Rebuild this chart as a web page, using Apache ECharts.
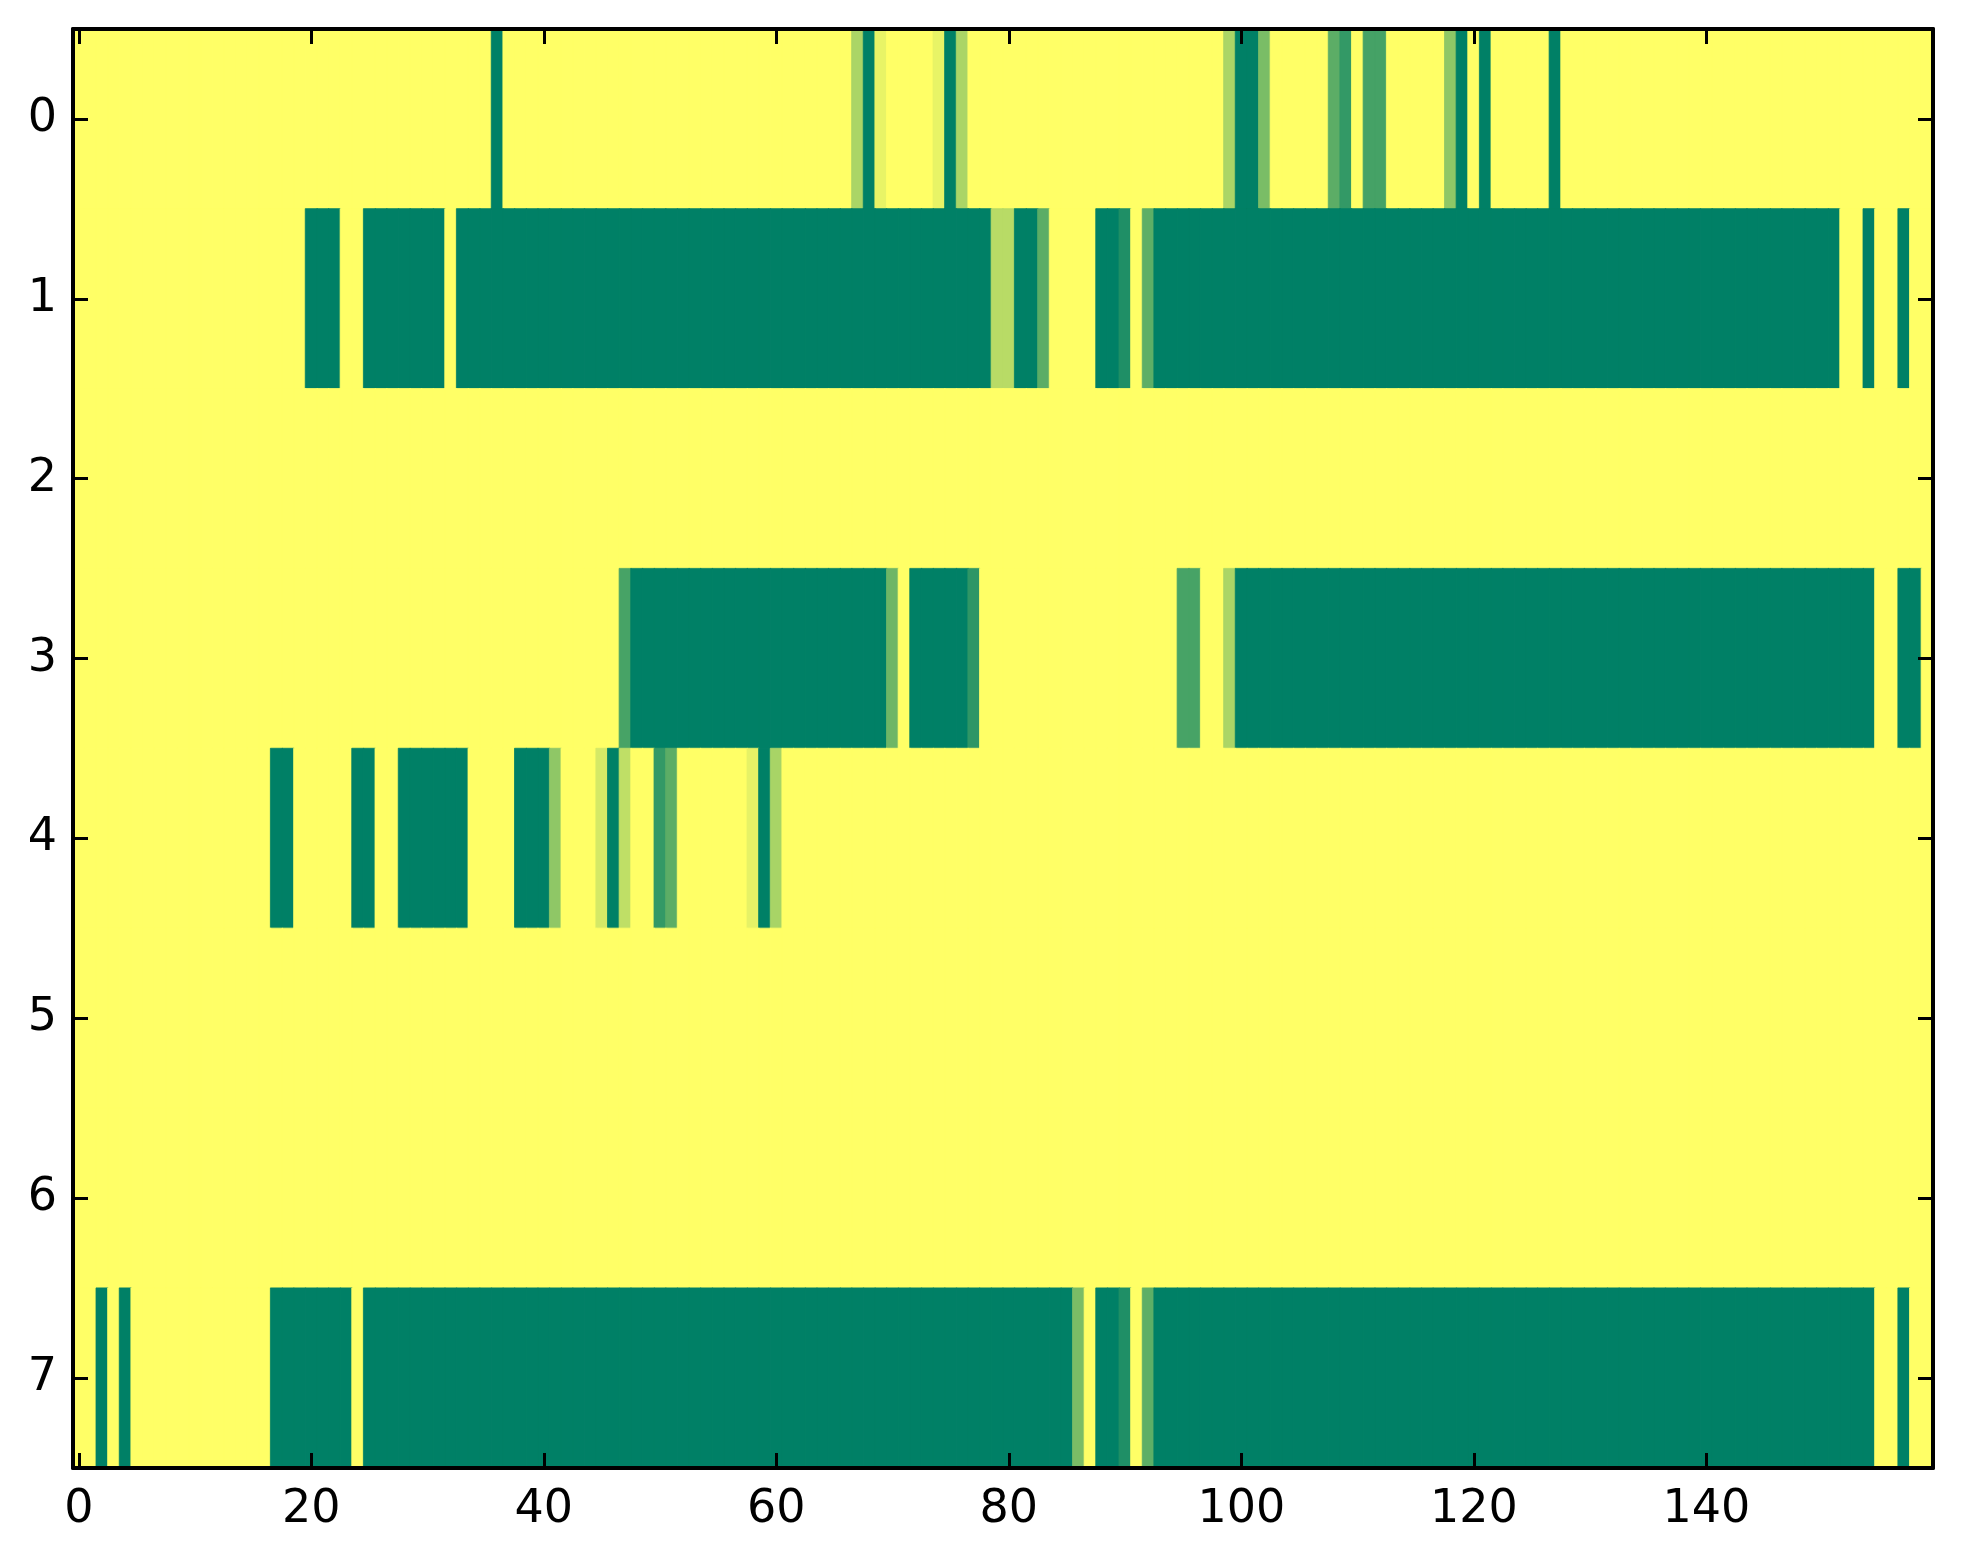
<!DOCTYPE html>
<html>
<head>
<meta charset="utf-8">
<script src="https://cdn.jsdelivr.net/npm/echarts@6/dist/echarts.min.js"></script>
<style>
html,body{margin:0;padding:0;background:#fff;}
#chart{width:1963px;height:1564px;}
</style>
</head>
<body>
<div id="chart"></div>
<script>
// Column categories 0..159 and row categories 0..7
const colLabels = [];
for (let i = 0; i < 160; i++) colLabels.push(String(i));
const rowLabels = ['0','1','2','3','4','5','6','7'];

// Cell values per row (0 = dark green, 1 = yellow; "summer" colormap)
const row0 = [
1,1,1,1,1,1,1,1,1,1,
1,1,1,1,1,1,1,1,1,1,
1,1,1,1,1,1,1,1,1,1,
1,1,1,1,1,1,0,1,1,1,
1,1,1,1,1,1,1,1,1,1,
1,1,1,1,1,1,1,1,1,1,
1,1,1,1,1,1,1,0.67,0,0.91,
1,1,1,1,0.91,0,0.67,1,1,1,
1,1,1,1,1,1,1,1,1,1,
1,1,1,1,1,1,1,1,1,0.67,
0,0,0.48,1,1,1,1,1,0.36,0.2,
1,0.27,0.27,1,1,1,1,1,0.56,0,
1,0,1,1,1,1,1,0,1,1,
1,1,1,1,1,1,1,1,1,1,
1,1,1,1,1,1,1,1,1,1,
1,1,1,1,1,1,1,1,1,1
];
const row1 = [
1,1,1,1,1,1,1,1,1,1,
1,1,1,1,1,1,1,1,1,1,
0,0,0,1,1,0,0,0,0,0,
0,0,1,0,0,0,0,0,0,0,
0,0,0,0,0,0,0,0,0,0,
0,0,0,0,0,0,0,0,0,0,
0,0,0,0,0,0,0,0,0,0,
0,0,0,0,0,0,0,0,0,0.72,
0.72,0,0,0.36,1,1,1,1,0,0,
0.12,1,0.37,0,0,0,0,0,0,0,
0,0,0,0,0,0,0,0,0,0,
0,0,0,0,0,0,0,0,0,0,
0,0,0,0,0,0,0,0,0,0,
0,0,0,0,0,0,0,0,0,0,
0,0,0,0,0,0,0,0,0,0,
0,0,1,1,0,1,1,0,1,1
];
const row2 = [
1,1,1,1,1,1,1,1,1,1,
1,1,1,1,1,1,1,1,1,1,
1,1,1,1,1,1,1,1,1,1,
1,1,1,1,1,1,1,1,1,1,
1,1,1,1,1,1,1,1,1,1,
1,1,1,1,1,1,1,1,1,1,
1,1,1,1,1,1,1,1,1,1,
1,1,1,1,1,1,1,1,1,1,
1,1,1,1,1,1,1,1,1,1,
1,1,1,1,1,1,1,1,1,1,
1,1,1,1,1,1,1,1,1,1,
1,1,1,1,1,1,1,1,1,1,
1,1,1,1,1,1,1,1,1,1,
1,1,1,1,1,1,1,1,1,1,
1,1,1,1,1,1,1,1,1,1,
1,1,1,1,1,1,1,1,1,1
];
const row3 = [
1,1,1,1,1,1,1,1,1,1,
1,1,1,1,1,1,1,1,1,1,
1,1,1,1,1,1,1,1,1,1,
1,1,1,1,1,1,1,1,1,1,
1,1,1,1,1,1,1,0.28,0,0,
0,0,0,0,0,0,0,0,0,0,
0,0,0,0,0,0,0,0,0,0,
0.43,1,0,0,0,0,0,0.18,1,1,
1,1,1,1,1,1,1,1,1,1,
1,1,1,1,1,0.28,0.28,1,1,0.67,
0,0,0,0,0,0,0,0,0,0,
0,0,0,0,0,0,0,0,0,0,
0,0,0,0,0,0,0,0,0,0,
0,0,0,0,0,0,0,0,0,0,
0,0,0,0,0,0,0,0,0,0,
0,0,0,0,0,1,1,0,0,1
];
const row4 = [
1,1,1,1,1,1,1,1,1,1,
1,1,1,1,1,1,1,0,0,1,
1,1,1,1,0,0,1,1,0,0,
0,0,0,0,1,1,1,1,0,0,
0,0.56,1,1,1,0.83,0,0.75,1,1,
0.2,0.36,1,1,1,1,1,1,0.9,0,
0.66,1,1,1,1,1,1,1,1,1,
1,1,1,1,1,1,1,1,1,1,
1,1,1,1,1,1,1,1,1,1,
1,1,1,1,1,1,1,1,1,1,
1,1,1,1,1,1,1,1,1,1,
1,1,1,1,1,1,1,1,1,1,
1,1,1,1,1,1,1,1,1,1,
1,1,1,1,1,1,1,1,1,1,
1,1,1,1,1,1,1,1,1,1,
1,1,1,1,1,1,1,1,1,1
];
const row5 = [
1,1,1,1,1,1,1,1,1,1,
1,1,1,1,1,1,1,1,1,1,
1,1,1,1,1,1,1,1,1,1,
1,1,1,1,1,1,1,1,1,1,
1,1,1,1,1,1,1,1,1,1,
1,1,1,1,1,1,1,1,1,1,
1,1,1,1,1,1,1,1,1,1,
1,1,1,1,1,1,1,1,1,1,
1,1,1,1,1,1,1,1,1,1,
1,1,1,1,1,1,1,1,1,1,
1,1,1,1,1,1,1,1,1,1,
1,1,1,1,1,1,1,1,1,1,
1,1,1,1,1,1,1,1,1,1,
1,1,1,1,1,1,1,1,1,1,
1,1,1,1,1,1,1,1,1,1,
1,1,1,1,1,1,1,1,1,1
];
const row6 = [
1,1,1,1,1,1,1,1,1,1,
1,1,1,1,1,1,1,1,1,1,
1,1,1,1,1,1,1,1,1,1,
1,1,1,1,1,1,1,1,1,1,
1,1,1,1,1,1,1,1,1,1,
1,1,1,1,1,1,1,1,1,1,
1,1,1,1,1,1,1,1,1,1,
1,1,1,1,1,1,1,1,1,1,
1,1,1,1,1,1,1,1,1,1,
1,1,1,1,1,1,1,1,1,1,
1,1,1,1,1,1,1,1,1,1,
1,1,1,1,1,1,1,1,1,1,
1,1,1,1,1,1,1,1,1,1,
1,1,1,1,1,1,1,1,1,1,
1,1,1,1,1,1,1,1,1,1,
1,1,1,1,1,1,1,1,1,1
];
const row7 = [
1,1,0,1,0,1,1,1,1,1,
1,1,1,1,1,1,1,0,0,0,
0,0,0,0,1,0,0,0,0,0,
0,0,0,0,0,0,0,0,0,0,
0,0,0,0,0,0,0,0,0,0,
0,0,0,0,0,0,0,0,0,0,
0,0,0,0,0,0,0,0,0,0,
0,0,0,0,0,0,0,0,0,0,
0,0,0,0,0,0,0.48,1,0,0,
0.12,1,0.37,0,0,0,0,0,0,0,
0,0,0,0,0,0,0,0,0,0,
0,0,0,0,0,0,0,0,0,0,
0,0,0,0,0,0,0,0,0,0,
0,0,0,0,0,0,0,0,0,0,
0,0,0,0,0,0,0,0,0,0,
0,0,0,0,0,1,1,0,1,1
];
const rows = [row0, row1, row2, row3, row4, row5, row6, row7];

// matplotlib "summer" colormap: (v, 0.5 + 0.5v, 0.4)
function summer(v) {
  const r = Math.round(255 * v);
  const g = Math.round(255 * (0.5 + 0.5 * v));
  const b = 102;
  return 'rgb(' + r + ',' + g + ',' + b + ')';
}

const heatData = [];
rows.forEach((r, y) => r.forEach((v, x) => {
  const c = summer(v);
  heatData.push({ value: [x, y, v], itemStyle: { color: c, borderColor: c, borderWidth: 0.8 } });
}));

const FONT = 'DejaVu Sans';
const tickEvery20 = (idx) => idx % 20 === 0;
const axisLineStyle = { show: true, onZero: false, lineStyle: { color: '#000', width: 4 } };
const tickStyle = { show: true, inside: true, length: 15, alignWithLabel: true, lineStyle: { color: '#000', width: 3 } };

const chart = echarts.init(document.getElementById('chart'), null, { renderer: 'canvas' });
chart.setOption({
  animation: false,
  backgroundColor: '#ffffff',
  grid: { left: 73, top: 29, width: 1860, height: 1439, containLabel: false },
  xAxis: [
    {
      type: 'category', data: colLabels, position: 'bottom', boundaryGap: true, z: 10,
      axisLine: axisLineStyle,
      axisTick: Object.assign({}, tickStyle, { interval: tickEvery20 }),
      axisLabel: { interval: tickEvery20, fontSize: 46, color: '#000', fontFamily: FONT, margin: 19 },
      splitLine: { show: false }
    },
    {
      type: 'category', data: colLabels, position: 'top', boundaryGap: true, z: 10,
      axisLine: axisLineStyle,
      axisTick: Object.assign({}, tickStyle, { interval: tickEvery20 }),
      axisLabel: { show: false },
      splitLine: { show: false }
    }
  ],
  yAxis: [
    {
      type: 'category', data: rowLabels, inverse: true, position: 'left', boundaryGap: true, z: 10,
      axisLine: axisLineStyle,
      axisTick: Object.assign({}, tickStyle, { interval: 0 }),
      axisLabel: { interval: 0, fontSize: 46, color: '#000', fontFamily: FONT, margin: 16 },
      splitLine: { show: false }
    },
    {
      type: 'category', data: rowLabels, inverse: true, position: 'right', boundaryGap: true, z: 10,
      axisLine: axisLineStyle,
      axisTick: Object.assign({}, tickStyle, { interval: 0 }),
      axisLabel: { show: false },
      splitLine: { show: false }
    }
  ],
  series: [{
    type: 'heatmap',
    xAxisIndex: 0, yAxisIndex: 0,
    z: 1,
    data: heatData,
    emphasis: { disabled: true },
    progressive: 0
  }]
});
</script>
</body>
</html>
